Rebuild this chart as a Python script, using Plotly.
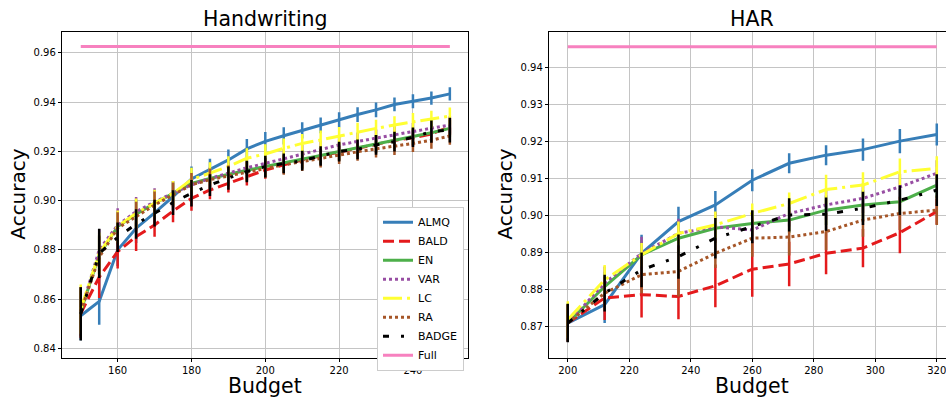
import plotly.graph_objects as go

# ---------------- Data ----------------
hw_budget = [150, 155, 160, 165, 170, 175, 180, 185, 190, 195, 200,
             205, 210, 215, 220, 225, 230, 235, 240, 245, 250]
hw_almq = [0.8533, 0.8591, 0.8800, 0.8888, 0.8950, 0.9016, 0.9088, 0.9125, 0.9165, 0.9210, 0.9240,
           0.9263, 0.9285, 0.9305, 0.9328, 0.9349, 0.9368, 0.9390, 0.9403, 0.9416, 0.9433]
hw_bald = [0.8543, 0.8690, 0.8793, 0.8854, 0.8901, 0.8958, 0.9009, 0.9043, 0.9070, 0.9097, 0.9124,
           0.9145, 0.9165, 0.9181, 0.9197, 0.9214, 0.9230, 0.9244, 0.9255, 0.9270, 0.9300]
hw_en = [0.8550, 0.8780, 0.8895, 0.8945, 0.8989, 0.9030, 0.9070, 0.9090, 0.9108, 0.9123, 0.9138,
         0.9152, 0.9167, 0.9183, 0.9199, 0.9215, 0.9230, 0.9245, 0.9260, 0.9275, 0.9293]
hw_var = [0.8550, 0.8800, 0.8901, 0.8955, 0.8995, 0.9030, 0.9064, 0.9090, 0.9112, 0.9133, 0.9151,
          0.9170, 0.9188, 0.9207, 0.9226, 0.9240, 0.9253, 0.9267, 0.9280, 0.9293, 0.9307]
hw_lc = [0.8560, 0.8786, 0.8895, 0.8949, 0.8989, 0.9030, 0.9085, 0.9111, 0.9138, 0.9172, 0.9189,
         0.9212, 0.9232, 0.9246, 0.9262, 0.9280, 0.9293, 0.9307, 0.9320, 0.9330, 0.9343]
hw_ra = [0.8550, 0.8770, 0.8888, 0.8935, 0.8982, 0.9023, 0.9064, 0.9085, 0.9100, 0.9118, 0.9133,
         0.9145, 0.9158, 0.9172, 0.9185, 0.9198, 0.9210, 0.9220, 0.9232, 0.9245, 0.9262]
hw_badge = [0.8540, 0.8786, 0.8851, 0.8905, 0.8949, 0.8992, 0.9030, 0.9063, 0.9091, 0.9118, 0.9138,
            0.9151, 0.9162, 0.9181, 0.9199, 0.9208, 0.9226, 0.9239, 0.9257, 0.9280, 0.9286]
hw_full = [0.9625] * len(hw_budget)

hw_almq_err = [0.010, 0.0095, 0.0065, 0.006, 0.0055, 0.0054, 0.005, 0.0045, 0.0042, 0.004, 0.0038,
               0.0035, 0.0033, 0.0032, 0.003, 0.003, 0.003, 0.0028, 0.0028, 0.0027, 0.0027]
hw_bald_err = [0.010, 0.0085, 0.0068, 0.0058, 0.0048, 0.0046, 0.005, 0.0038, 0.0037, 0.0036, 0.0035,
               0.0035, 0.0035, 0.0035, 0.0035, 0.0035, 0.0035, 0.0035, 0.0035, 0.0035, 0.0035]
hw_en_err = [0.010, 0.008, 0.006, 0.0055, 0.005, 0.0048, 0.0045, 0.0042, 0.004, 0.004, 0.004,
             0.0038, 0.0038, 0.0037, 0.0036, 0.0035, 0.0035, 0.0034, 0.0034, 0.0034, 0.0034]
hw_var_err = [0.010, 0.0085, 0.0068, 0.006, 0.0055, 0.005, 0.0048, 0.0045, 0.0042, 0.004, 0.004,
              0.004, 0.0038, 0.0038, 0.0037, 0.0036, 0.0035, 0.0035, 0.0035, 0.0035, 0.0035]
hw_lc_err = [0.010, 0.0085, 0.0065, 0.006, 0.0055, 0.005, 0.0048, 0.0045, 0.0042, 0.004, 0.004,
             0.004, 0.0038, 0.0038, 0.0037, 0.0036, 0.0035, 0.0035, 0.0035, 0.0035, 0.0035]
hw_ra_err = [0.010, 0.0085, 0.0065, 0.006, 0.0055, 0.005, 0.0048, 0.0045, 0.0042, 0.004, 0.004,
             0.004, 0.0038, 0.0038, 0.0037, 0.0036, 0.0035, 0.0035, 0.0035, 0.0035, 0.0035]
hw_badge_err = [0.0108, 0.010, 0.006, 0.006, 0.0054, 0.005, 0.0054, 0.0044, 0.0047, 0.0044, 0.0044,
                0.004, 0.004, 0.004, 0.004, 0.004, 0.004, 0.004, 0.004, 0.0045, 0.005]

har_budget = [200, 212, 224, 236, 248, 260, 272, 284, 296, 308, 320]
har_almq = [0.8708, 0.8758, 0.8897, 0.8983, 0.9028, 0.9095, 0.9141, 0.9163, 0.9178, 0.9201, 0.9219]
har_bald = [0.8708, 0.8776, 0.8785, 0.8780, 0.8809, 0.8854, 0.8868, 0.8897, 0.8911, 0.8953, 0.9010]
har_en = [0.8708, 0.8807, 0.8893, 0.8938, 0.8965, 0.8978, 0.8987, 0.9014, 0.9028, 0.9037, 0.9082]
har_var = [0.8708, 0.8816, 0.8897, 0.8951, 0.8969, 0.8960, 0.9005, 0.9028, 0.9046, 0.9077, 0.9114]
har_lc = [0.8717, 0.8825, 0.8893, 0.8951, 0.8974, 0.9005, 0.9032, 0.9070, 0.9082, 0.9118, 0.9127]
har_ra = [0.8708, 0.8789, 0.8839, 0.8848, 0.8897, 0.8938, 0.8941, 0.8956, 0.8987, 0.9005, 0.9014]
har_badge = [0.8708, 0.8789, 0.8852, 0.8888, 0.8938, 0.8969, 0.9001, 0.9003, 0.9019, 0.9041, 0.9068]
har_full = [0.9457] * len(har_budget)

har_almq_err = [0.005, 0.005, 0.005, 0.004, 0.0038, 0.003, 0.0027, 0.0027, 0.003, 0.0033, 0.003]
har_bald_err = [0.005, 0.006, 0.0062, 0.0062, 0.0058, 0.0075, 0.006, 0.0057, 0.0052, 0.0056, 0.0035]
har_en_err = [0.005, 0.004, 0.004, 0.004, 0.004, 0.0035, 0.0035, 0.004, 0.004, 0.0035, 0.0035]
har_var_err = [0.005, 0.0045, 0.0045, 0.004, 0.004, 0.0035, 0.0035, 0.004, 0.004, 0.0035, 0.0035]
har_lc_err = [0.005, 0.004, 0.0032, 0.0032, 0.0036, 0.0027, 0.003, 0.004, 0.0035, 0.0036, 0.0033]
har_ra_err = [0.005, 0.0045, 0.005, 0.0068, 0.004, 0.005, 0.005, 0.005, 0.0045, 0.0045, 0.004]
har_badge_err = [0.0052, 0.005, 0.0047, 0.006, 0.0055, 0.0045, 0.0045, 0.0045, 0.0045, 0.004, 0.0043]

names = ["ALMQ", "BALD", "EN", "VAR", "LC", "RA", "BADGE", "Full"]
colors = ["#377eb8", "#e41a1c", "#4daf4a", "#984ea3", "#ffff33", "#a65628", "#000000", "#f781bf"]
dashes = ["solid", "11px,5px", "solid", "3px,3px", "19px,5px,3px,5px", "3px,3px",
          "6px,12px,3px,12px", "solid"]

hw_series = [hw_almq, hw_bald, hw_en, hw_var, hw_lc, hw_ra, hw_badge, hw_full]
hw_errs = [hw_almq_err, hw_bald_err, hw_en_err, hw_var_err, hw_lc_err, hw_ra_err, hw_badge_err, None]
har_series = [har_almq, har_bald, har_en, har_var, har_lc, har_ra, har_badge, har_full]
har_errs = [har_almq_err, har_bald_err, har_en_err, har_var_err, har_lc_err, har_ra_err, har_badge_err, None]

fig = go.Figure()

def add(xs, ys, err, i, xa, ya, show):
    kw = {}
    if err is not None:
        kw["error_y"] = dict(type="data", array=err, visible=True, thickness=2.5,
                             width=0, color=colors[i])
    fig.add_trace(go.Scatter(
        x=xs, y=ys, mode="lines", name=names[i],
        line=dict(color=colors[i], width=3, dash=dashes[i]),
        xaxis=xa, yaxis=ya, showlegend=show, legendgroup=names[i],
        hoverinfo="skip", **kw))

for i in range(8):
    add(hw_budget, hw_series[i], hw_errs[i], i, "x", "y", True)
for i in range(8):
    add(har_budget, har_series[i], har_errs[i], i, "x2", "y2", False)

W, H = 946, 398
top_px, bot_px = 31.7, 357.7
yd = [1 - bot_px / H, 1 - top_px / H]
font = "DejaVu Sans"

axis_common = dict(showgrid=True, gridcolor="#c4c4c4", gridwidth=1.2, zeroline=False,
                   showline=True, linecolor="black", linewidth=1,
                   ticks="outside", ticklen=3.5, tickwidth=1, tickcolor="black",
                   showspikes=False,
                   tickfont=dict(family=font, size=10, color="black"))

fig.update_layout(
    width=W, height=H,
    margin=dict(l=0, r=0, t=0, b=0),
    paper_bgcolor="white", plot_bgcolor="white",
    hovermode=False,
    font=dict(family=font, color="black"),
    xaxis=dict(domain=[62.3 / W, 468.3 / W], range=[145, 255], tickvals=[160, 180, 200, 220, 240],
               mirror=True, anchor="y", **axis_common),
    yaxis=dict(domain=yd, range=[0.83627, 0.96852], tickvals=[0.84, 0.86, 0.88, 0.90, 0.92, 0.94, 0.96],
               tickformat=".2f", mirror=True, anchor="x", **axis_common),
    xaxis2=dict(domain=[549.3 / W, 1.0], range=[194, 323.0],
                tickvals=[200, 220, 240, 260, 280, 300, 320], ticklabeloverflow="allow",
                mirror=True, anchor="y2", **axis_common),
    yaxis2=dict(domain=yd, range=[0.86141, 0.94976],
                tickvals=[0.87, 0.88, 0.89, 0.90, 0.91, 0.92, 0.93, 0.94],
                tickformat=".2f", mirror=False, anchor="x2", **axis_common),
    legend=dict(x=377 / W, y=1 - 206.7 / H, xanchor="left", yanchor="top",
                bgcolor="#ffffff", bordercolor="#cccccc", borderwidth=1,
                font=dict(family=font, size=11, color="black"),
                tracegroupgap=0, itemwidth=30),
)

ann = [
    dict(text="Handwriting", x=265.3 / W, y=1 - 19 / H),
    dict(text="HAR", x=752 / W, y=1 - 19 / H),
    dict(text="Budget", x=265.3 / W, y=1 - 386 / H),
    dict(text="Budget", x=752 / W, y=1 - 386 / H),
]
for a in ann:
    fig.add_annotation(text=a["text"], x=a["x"], y=a["y"], xref="paper", yref="paper",
                       xanchor="center", yanchor="middle", showarrow=False,
                       font=dict(family=font, size=20.5, color="black"))
for xp in [18, 505]:
    fig.add_annotation(text="Accuracy", x=xp / W, y=1 - 194.7 / H, xref="paper", yref="paper",
                       xanchor="center", yanchor="middle", showarrow=False, textangle=-90,
                       font=dict(family=font, size=20, color="black"))

fig.write_html("out.html", config={"displayModeBar": False},
               post_script="document.body.style.margin='0';document.body.style.overflow='hidden';")
